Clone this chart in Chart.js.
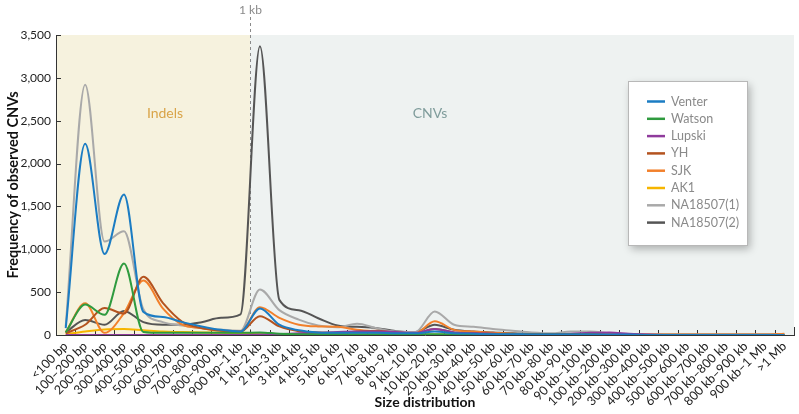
<!DOCTYPE html>
<html>
<head>
<meta charset="utf-8">
<script src="https://cdn.jsdelivr.net/npm/chart.js@4.4.0/dist/chart.umd.min.js"></script>
<style>
    html, body { margin: 0; padding: 0; background: #fff; }
    #wrap { position: relative; width: 799px; height: 414px; }
</style>
</head>
<body>
<div id="wrap"><canvas id="cnvChart" width="799" height="414"></canvas></div>
<script>
// Size bins (x axis categories)
const sizeBins = [
    '<100 bp', '100–200 bp', '200–300 bp', '300–400 bp', '400–500 bp', '500–600 bp',
    '600–700 bp', '700–800 bp', '800–900 bp', '900 bp–1 kb', '1 kb–2 kb', '2 kb–3 kb',
    '3 kb–4 kb', '4 kb–5 kb', '5 kb–6 kb', '6 kb–7 kb', '7 kb–8 kb', '8 kb–9 kb',
    '9 kb–10 kb', '10 kb–20 kb', '20 kb–30 kb', '30 kb–40 kb', '40 kb–50 kb', '50 kb–60 kb',
    '60 kb–70 kb', '70 kb–80 kb', '80 kb–90 kb', '90 kb–100 kb', '100 kb–200 kb', '200 kb–300 kb',
    '300 kb–400 kb', '400 kb–500 kb', '500 kb–600 kb', '600 kb–700 kb', '700 kb–800 kb',
    '800 kb–900 kb', '900 kb–1 Mb', '>1 Mb'
];

// Frequencies, one value per size bin
const venter = [80, 2230, 945, 1640, 270, 210, 150, 100, 60, 40, 310, 120, 55, 30, 25, 25, 25, 20, 20, 40, 20, 15, 10, 10, 5, 5, 5, 5, 5, 5, 0, 0, 0, 0, 0, 0, 0, 0];
const watson = [30, 355, 235, 835, 35, 25, 25, 25, 25, 25, 30, 15, 10, 10, 10, 10, 10, 10, 10, 10, 5, 5, 5, 5, 5, 5, 5, 5, 0, 0, 0, 0, 0, 0, 0, 0, 0, 0];
const lupski = [0, 0, 0, 0, 0, 0, 0, 0, 0, 0, 5, 10, 20, 25, 35, 40, 40, 35, 25, 70, 30, 20, 15, 10, 10, 10, 15, 25, 30, 15, 5, 0, 0, 0, 0, 0, 0, 0];
const yh = [20, 120, 315, 250, 680, 375, 155, 80, 50, 40, 220, 100, 45, 30, 25, 40, 50, 30, 20, 70, 30, 20, 15, 10, 10, 10, 10, 10, 5, 5, 0, 0, 0, 0, 0, 0, 0, 0];
const sjk = [30, 370, 25, 255, 635, 310, 120, 80, 50, 40, 325, 200, 120, 100, 95, 60, 40, 25, 20, 160, 60, 40, 25, 15, 10, 10, 10, 10, 5, 5, 5, 5, 5, 5, 5, 5, 5, 15];
const ak1 = [10, 40, 65, 70, 55, 40, 35, 30, 25, 15, 10, 5, 5, 5, 5, 5, 5, 5, 5, 5, 5, 5, 5, 0, 0, 0, 0, 0, 0, 0, 0, 0, 0, 0, 0, 0, 0, 0];
const na18507a = [100, 2920, 1090, 1210, 300, 150, 110, 80, 60, 50, 530, 290, 180, 110, 90, 130, 80, 40, 35, 275, 120, 95, 70, 50, 30, 20, 40, 40, 20, 10, 5, 5, 5, 5, 5, 5, 5, 5];
const na18507b = [30, 175, 120, 280, 150, 120, 120, 150, 200, 240, 3370, 410, 290, 195, 110, 95, 80, 45, 35, 120, 60, 40, 30, 20, 15, 10, 10, 10, 5, 5, 5, 5, 5, 5, 5, 5, 5, 5];

const yTicks = [0, 500, 1000, 1500, 2000, 2500, 3000, 3500];

const seriesDefs = [
    { label: 'Venter', data: venter, color: '#1b7cc3' },
    { label: 'Watson', data: watson, color: '#2f9b3f' },
    { label: 'Lupski', data: lupski, color: '#8f3b9c' },
    { label: 'YH', data: yh, color: '#b4531f' },
    { label: 'SJK', data: sjk, color: '#f2802b' },
    { label: 'AK1', data: ak1, color: '#f6b500' },
    { label: 'NA18507(1)', data: na18507a, color: '#a9a9a9' },
    { label: 'NA18507(2)', data: na18507b, color: '#555555' }
];

const FONT = 'Lato, "Open Sans", sans-serif';

// shaded regions, 1 kb divider and region captions
const regionPlugin = {
    id: 'regions',
    beforeDraw(chart) {
        const { ctx, chartArea: a, scales: { x } } = chart;
        const split = x.getPixelForValue(9.5);
        ctx.save();
        ctx.fillStyle = '#f6f2de';
        ctx.fillRect(a.left, a.top, split - a.left, a.bottom - a.top);
        ctx.fillStyle = '#eef2f1';
        ctx.fillRect(split, a.top, a.right - split, a.bottom - a.top);
        ctx.restore();
    },
    beforeDatasetsDraw(chart) {
        const { ctx, chartArea: a, scales: { x, y } } = chart;
        const split = Math.round(x.getPixelForValue(9.5)) + 0.5;
        ctx.save();
        ctx.strokeStyle = '#8a8a8a';
        ctx.lineWidth = 1;
        ctx.setLineDash([3, 3]);
        ctx.beginPath();
        ctx.moveTo(split, 17);
        ctx.lineTo(split, a.bottom);
        ctx.stroke();
        ctx.setLineDash([]);

        ctx.font = '12px ' + FONT;
        ctx.textAlign = 'center';
        ctx.textBaseline = 'middle';
        ctx.fillStyle = '#8a8a8a';
        ctx.fillText('1 kb', split, 10);

        ctx.font = '14px ' + FONT;
        ctx.fillStyle = '#d9a448';
        ctx.fillText('Indels', 165, 113);
        ctx.fillStyle = '#7f9c9b';
        ctx.fillText('CNVs', 430, 113);

        // inward tick marks
        ctx.strokeStyle = '#333';
        ctx.beginPath();
        yTicks.forEach(v => {
            const py = Math.round(y.getPixelForValue(v)) + 0.5;
            ctx.moveTo(a.left, py);
            ctx.lineTo(a.left + 5, py);
        });
        for (let i = 0; i <= sizeBins.length; i++) {
            const px = Math.round(x.getPixelForValue(i - 0.5)) + 0.5;
            ctx.moveTo(px, a.bottom);
            ctx.lineTo(px, a.bottom - (i === sizeBins.length ? 8 : 5));
        }
        ctx.stroke();
        ctx.restore();
    },
    afterDraw(chart) {
        const { ctx } = chart;
        const bx = 628, by = 81, bw = 119, bh = 164;
        ctx.save();
        ctx.shadowColor = 'rgba(0,0,0,0.28)';
        ctx.shadowBlur = 8;
        ctx.shadowOffsetX = 3;
        ctx.shadowOffsetY = 4;
        ctx.fillStyle = '#fff';
        ctx.fillRect(bx, by, bw, bh);
        ctx.restore();
        ctx.save();
        ctx.strokeStyle = '#b8b8b8';
        ctx.lineWidth = 1;
        ctx.strokeRect(bx + 0.5, by + 0.5, bw, bh);
        ctx.font = '12.5px ' + FONT;
        ctx.textAlign = 'left';
        ctx.textBaseline = 'middle';
        seriesDefs.forEach((s, i) => {
            const ly = 101.5 + i * 17.3;
            ctx.strokeStyle = s.color;
            ctx.lineWidth = 2.5;
            ctx.beginPath();
            ctx.moveTo(647, ly);
            ctx.lineTo(665, ly);
            ctx.stroke();
            ctx.fillStyle = '#8a8a8a';
            ctx.fillText(s.label, 671, ly);
        });
        ctx.restore();
    }
};

new Chart(document.getElementById('cnvChart'), {
    type: 'line',
    data: {
        labels: sizeBins,
        datasets: seriesDefs.map(s => ({
            label: s.label,
            data: s.data,
            borderColor: s.color,
            backgroundColor: s.color,
            borderWidth: 2,
            pointRadius: 0,
            cubicInterpolationMode: 'monotone',
            fill: false
        }))
    },
    options: {
        responsive: false,
        animation: false,
        events: [],
        layout: { padding: { top: 35, right: 4, left: 0, bottom: 0 } },
        plugins: { legend: { display: false }, tooltip: { enabled: false } },
        scales: {
            x: {
                offset: true,
                grid: { display: false, drawTicks: false },
                border: { display: true, color: '#333', width: 1 },
                ticks: {
                    autoSkip: false,
                    minRotation: 45,
                    maxRotation: 45,
                    padding: 4,
                    color: '#222',
                    font: { family: FONT, size: 12.5 }
                },
                title: {
                    display: true,
                    text: 'Size distribution',
                    color: '#111',
                    font: { family: FONT, size: 14, weight: 'bold' },
                    padding: { top: 0, bottom: 3 }
                },
                afterFit(scale) { scale.height = 79; }
            },
            y: {
                min: 0,
                max: 3500,
                grid: { display: false, drawTicks: false },
                border: { display: true, color: '#333', width: 1 },
                ticks: {
                    stepSize: 500,
                    padding: 5,
                    color: '#222',
                    font: { family: FONT, size: 12 },
                    callback: v => v.toLocaleString('en-US')
                },
                title: {
                    display: true,
                    text: 'Frequency of observed CNVs',
                    color: '#111',
                    font: { family: FONT, size: 14.5, weight: 'bold' },
                    padding: { top: 5, bottom: 0 }
                },
                afterFit(scale) { scale.width = 56; }
            }
        }
    },
    plugins: [regionPlugin]
});
</script>
</body>
</html>
